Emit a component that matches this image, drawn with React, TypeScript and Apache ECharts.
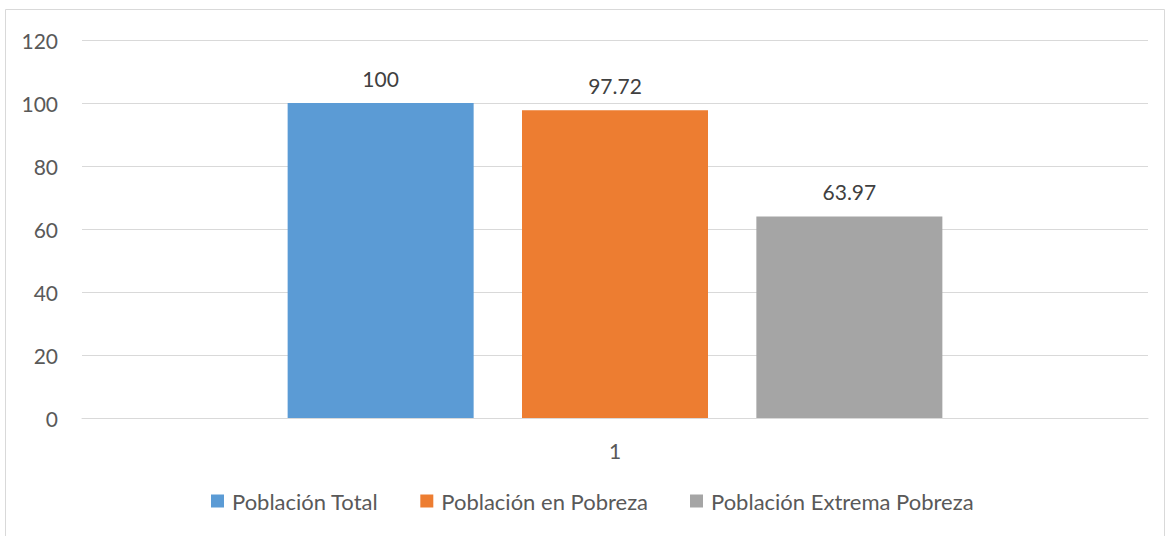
import React, { useEffect, useRef } from "react";
import * as echarts from "echarts";

const categories = ["1"];
const seriesNames = ["Población Total", "Población en Pobreza", "Población Extrema Pobreza"];
const seriesValues = [[100], [97.72], [63.97]];
const colors = ["#5b9bd5", "#ed7d31", "#a5a5a5"];
const yTicks = { min: 0, max: 120, interval: 20 };

export default function App() {
  const ref = useRef<HTMLDivElement>(null);
  useEffect(() => {
    document.body.style.margin = "0";
    const chart = echarts.init(ref.current!, null, { renderer: "svg" });
    const font = "Lato";
    chart.setOption({
      animation: false,
      backgroundColor: "#ffffff",
      textStyle: { fontFamily: font },
      graphic: [
        {
          type: "rect",
          shape: { x: 5.5, y: 9.5, width: 1159, height: 540 },
          style: { fill: "none", stroke: "#d9d9d9", lineWidth: 1 },
          silent: true,
        },
      ],
      grid: { left: 82, right: 22, top: 40, bottom: 118, containLabel: false },
      legend: {
        top: 490,
        left: 211,
        padding: 0,
        itemWidth: 13,
        itemHeight: 13,
        itemGap: 42,
        icon: "rect",
        textStyle: { fontFamily: font, fontSize: 22, color: "#595959", padding: [0, 0, 0, 3] },
        data: seriesNames,
      },
      xAxis: {
        type: "category",
        data: categories,
        axisLine: { show: true, lineStyle: { color: "#d9d9d9" } },
        axisTick: { show: false },
        axisLabel: { fontFamily: font, fontSize: 21, color: "#595959", margin: 22 },
      },
      yAxis: {
        type: "value",
        min: yTicks.min,
        max: yTicks.max,
        interval: yTicks.interval,
        axisLine: { show: false },
        axisTick: { show: false },
        splitLine: { lineStyle: { color: "#d9d9d9" } },
        axisLabel: { fontFamily: font, fontSize: 21, color: "#595959", margin: 24 },
      },
      series: seriesNames.map((name, i) => ({
        name,
        type: "bar",
        data: seriesValues[i],
        barWidth: 186,
        barGap: "26%",
        itemStyle: { color: colors[i] },
        label: {
          show: true,
          position: "top",
          distance: 14,
          fontFamily: font,
          fontSize: 21,
          color: "#404040",
        },
      })),
    });
    return () => chart.dispose();
  }, []);
  return <div ref={ref} style={{ width: 1170, height: 536 }} />;
}
